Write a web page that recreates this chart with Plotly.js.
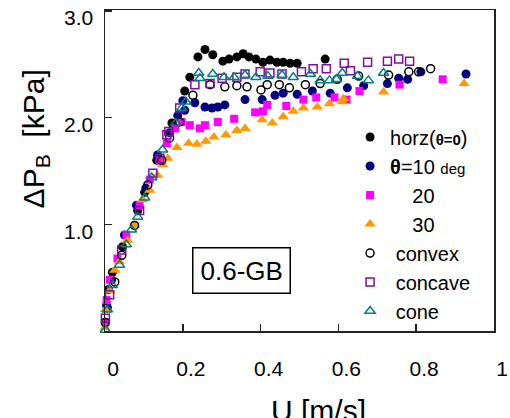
<!DOCTYPE html>
<html>
<head>
<meta charset="utf-8">
<script src="https://cdn.plot.ly/plotly-3.0.1.min.js"></script>
<style>html,body{margin:0;padding:0;background:#fff}#chart{width:510px;height:418px}</style>
</head>
<body>
<div id="chart"></div>
<script>
// horz (theta = 0)
const horzU = [0.006,0.009,0.019,0.045,0.084,0.102,0.133,0.172,0.205,0.218,0.239,0.257,0.277,0.303,0.319,0.339,0.355,0.370,0.388,0.406,0.424,0.442,0.458,0.476,0.494,0.566];
const horzP = [0.22,0.39,0.55,0.79,1.13,1.30,1.60,1.95,2.25,2.38,2.57,2.64,2.59,2.53,2.55,2.57,2.60,2.57,2.55,2.52,2.54,2.52,2.52,2.51,2.51,2.55];
// theta = 10 deg
const t10U = [0.004,0.017,0.050,0.081,0.105,0.135,0.166,0.187,0.200,0.205,0.231,0.257,0.275,0.290,0.308,0.360,0.404,0.437,0.458,0.494,0.533,0.579,0.623,0.665,0.726,0.755,0.778,0.812,0.928];
const t10P = [0.24,0.48,0.90,1.18,1.34,1.65,1.86,2.02,2.16,2.07,2.14,2.10,2.09,2.10,2.12,2.17,2.17,2.21,2.23,2.22,2.25,2.23,2.28,2.30,2.32,2.37,2.36,2.43,2.41];
// theta = 20 deg
const t20U = [0.001,0.004,0.012,0.032,0.055,0.089,0.115,0.141,0.159,0.180,0.197,0.218,0.244,0.257,0.290,0.332,0.386,0.406,0.417,0.466,0.510,0.543,0.590,0.621,0.654,0.757,0.868];
const t20P = [0.08,0.29,0.48,0.68,0.90,1.18,1.42,1.60,1.76,1.90,1.96,1.93,1.90,1.93,1.96,1.99,2.05,2.06,2.12,2.11,2.17,2.19,2.19,2.17,2.25,2.31,2.36];
// theta = 30 deg
const t30U = [0.000,0.001,0.012,0.025,0.037,0.058,0.076,0.097,0.115,0.135,0.148,0.161,0.185,0.215,0.236,0.259,0.280,0.311,0.339,0.360,0.404,0.430,0.458,0.484,0.510,0.546,0.577,0.610,0.613,0.716,0.923];
const t30P = [0.03,0.20,0.38,0.57,0.65,0.85,0.99,1.23,1.32,1.46,1.56,1.62,1.72,1.76,1.75,1.78,1.82,1.84,1.88,1.90,1.98,1.95,2.01,2.06,2.09,2.10,2.13,2.15,2.18,2.24,2.32];
// convex
const convexU = [0.001,0.025,0.043,0.076,0.110,0.146,0.166,0.192,0.226,0.270,0.308,0.339,0.365,0.401,0.417,0.448,0.474,0.515,0.553,0.597,0.652,0.729,0.781,0.806,0.837];
const convexP = [0.08,0.46,0.71,0.99,1.37,1.60,1.81,1.96,2.21,2.31,2.29,2.30,2.29,2.26,2.31,2.31,2.28,2.31,2.32,2.36,2.39,2.40,2.43,2.43,2.46];
// concave
const concaveU = [0.001,0.012,0.043,0.089,0.123,0.141,0.159,0.164,0.192,0.231,0.270,0.301,0.339,0.360,0.399,0.424,0.455,0.505,0.535,0.569,0.615,0.631,0.675,0.726,0.755,0.783];
const concaveP = [0.12,0.34,0.76,1.13,1.48,1.62,1.84,1.87,2.09,2.31,2.32,2.37,2.38,2.41,2.43,2.42,2.41,2.43,2.46,2.46,2.51,2.44,2.52,2.53,2.55,2.53];
// cone
const coneU = [0.001,0.006,0.019,0.037,0.055,0.068,0.084,0.102,0.120,0.148,0.182,0.197,0.208,0.241,0.244,0.277,0.306,0.332,0.360,0.388,0.419,0.455,0.484,0.528,0.553,0.577,0.595,0.610,0.649,0.677,0.716];
const coneP = [0.01,0.20,0.43,0.62,0.81,0.95,1.07,1.25,1.44,1.70,1.95,2.09,2.15,2.42,2.37,2.41,2.38,2.38,2.40,2.38,2.39,2.40,2.38,2.41,2.35,2.35,2.36,2.42,2.39,2.35,2.42];

const xTicks = [0, 0.2, 0.4, 0.6, 0.8, 1];
const xTickText = ["0", "0.2", "0.4", "0.6", "0.8", "1"];
const yTicks = [1, 2, 3];
const yTickText = ["1.0", "2.0", "3.0"];

const FONT = '"Liberation Sans", Arial, sans-serif';
const nb = '\u00a0';

function tr(x, y, name, symbol, color, size, open) {
  return {
    x: x, y: y, name: name, type: 'scatter', mode: 'markers', cliponaxis: false,
    marker: {symbol: symbol, color: color, size: size,
             line: {width: open ? 1.5 : 0, color: color}}
  };
}

const data = [
  tr(horzU, horzP, 'horz(<b><span style="font-size:15px">θ=0</span></b>)', 'circle', '#000000', 9, false),
  tr(t10U, t10P, '<b>θ</b>=10 <span style="font-size:15px">deg</span>', 'circle', '#000080', 9, false),
  tr(t20U, t20P, nb+nb+nb+nb+'20', 'square', '#ff00ff', 8, false),
  tr(t30U, t30P, nb+nb+nb+nb+'30', 'triangle-up', '#ff9900', 10, false),
  tr(convexU, convexP, nb+'convex', 'circle-open', '#000000', 8, true),
  tr(concaveU, concaveP, nb+'concave', 'square-open', '#7f0f9f', 8, true),
  tr(coneU, coneP, nb+'cone', 'triangle-up-open', '#008080', 9, true)
];

const layout = {
  width: 510, height: 418,
  margin: {l: 105, r: 16, t: 10, b: 87},
  paper_bgcolor: '#ffffff', plot_bgcolor: '#ffffff',
  font: {family: FONT, color: '#000000', size: 21},
  showlegend: true,
  legend: {x: 0.63, y: 0.665, xanchor: 'left', yanchor: 'top', bgcolor: 'rgba(0,0,0,0)',
           font: {family: FONT, size: 20, color: '#000'}, tracegroupgap: 0},
  xaxis: {range: [0, 1], tickvals: xTicks, ticktext: xTickText, ticks: 'inside', ticklen: 7,
          tickwidth: 1.5, tickcolor: '#222', showline: true, linecolor: '#222', linewidth: 1.5,
          mirror: true, showgrid: false, zeroline: false, ticklabelstandoff: 18,
          ticklabelshift: 8, ticklabeloverflow: 'allow',
          tickfont: {family: FONT, size: 21}},
  yaxis: {range: [0, 3.01], tickvals: yTicks, ticktext: yTickText, ticks: 'inside', ticklen: 7,
          tickwidth: 1.5, tickcolor: '#222', showline: true, linecolor: '#222', linewidth: 1.5,
          mirror: true, showgrid: false, zeroline: false, ticklabelstandoff: 6,
          ticklabelshift: 7, ticklabeloverflow: 'allow',
          tickfont: {family: FONT, size: 21}},
  annotations: [
    {text: 'U [m/s]', xref: 'paper', yref: 'paper', x: 0.548, y: -0.19, xanchor: 'center', yanchor: 'top',
     showarrow: false, font: {family: FONT, size: 30}},
    {text: 'ΔP<sub>B</sub>  [kPa]', xref: 'paper', yref: 'paper', x: -0.18, y: 0.60, xanchor: 'center', yanchor: 'middle',
     textangle: -90, showarrow: false, font: {family: FONT, size: 30}},
    {text: '0.6-GB', xref: 'paper', yref: 'paper', x: 0.352, y: 0.19, xanchor: 'center', yanchor: 'middle',
     showarrow: false, bordercolor: '#000', borderwidth: 1.5, borderpad: 7, font: {family: FONT, size: 26}}
  ]
};

Plotly.newPlot('chart', data, layout, {displayModeBar: false, staticPlot: true});
</script>
</body>
</html>
